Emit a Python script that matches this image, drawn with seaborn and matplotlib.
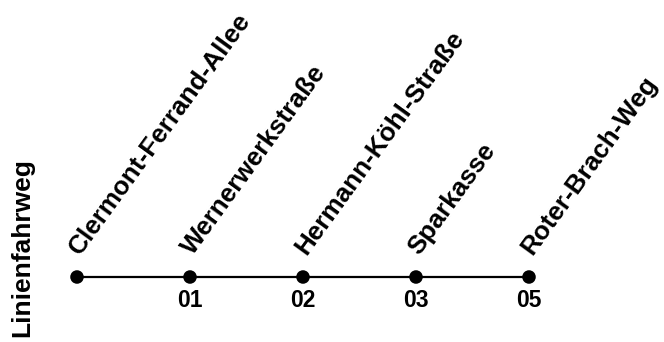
import matplotlib
matplotlib.use("Agg")
import matplotlib.pyplot as plt
import seaborn as sns
import pandas as pd

# Haltestellen der Linie
stations = ["Clermont-Ferrand-Allee", "Wernerwerkstraße", "Hermann-Köhl-Straße",
            "Sparkasse", "Roter-Brach-Weg"]
codes = ["", "01", "02", "03", "05"]
y_title = "Linienfahrweg"

df = pd.DataFrame({"pos": range(len(stations)), "y": 0, "station": stations, "code": codes})

sns.set_style("white")
plt.rcParams["font.family"] = ["Liberation Sans", "DejaVu Sans"]
plt.rcParams["font.weight"] = "bold"
plt.rcParams["text.color"] = "black"

fig = plt.figure(figsize=(6.64, 3.42), dpi=100)
ax = fig.add_axes([0, 0, 1, 1])

sns.lineplot(data=df, x="pos", y="y", color="black", linewidth=1.6, ax=ax)
sns.scatterplot(data=df, x="pos", y="y", color="black", s=95, edgecolor="none", ax=ax, zorder=3)

# x: 1 Einheit = 113 px, Station 0 bei 77 px; y in Pixeln
ax.set_xlim(-77 / 113, (664 - 77) / 113)
ax.set_ylim(-65, 277)
ax.axis("off")

for _, r in df.iterrows():
    ax.text(r["pos"] + 3 / 113, 21, r["station"], rotation=54, rotation_mode="anchor",
            ha="left", va="baseline", fontsize=18.8, fontweight="bold", color="black")
    ax.text(r["pos"], -30, r["code"], ha="center", va="baseline",
            fontsize=16.5, fontweight="bold", color="black")

fig.text(22 / 664, 1 - 248 / 342, y_title, rotation=90, ha="center", va="center",
         fontsize=19, fontweight="bold", color="black")

fig.savefig("out.png", dpi=100)
